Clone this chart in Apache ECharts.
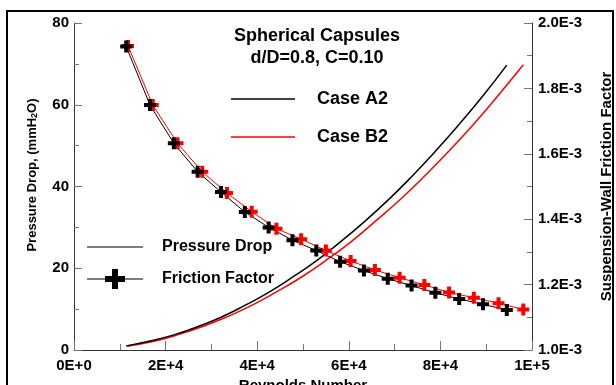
<!DOCTYPE html>
<html>
<head>
    <meta charset="utf-8">
    <title>Spherical Capsules</title>
    <script src="https://cdn.jsdelivr.net/npm/echarts@6.0.0/dist/echarts.min.js"></script>
    <style>
        body { margin: 0; background: #fff; }
    </style>
</head>
<body>
<div id="main" style="width: 616px;height:385px;"></div>
<script type="text/javascript">

    // Case A2 (black)
    var reA2 = [11400, 16600, 21800, 27000, 32100, 37300, 42500, 47700, 52900, 58100, 63300, 68500, 73700, 78900, 84100, 89300, 94500];
    var pdA2 = [1.0, 2.2, 3.7, 5.7, 8.0, 10.9, 14.1, 17.8, 21.8, 26.4, 31.3, 36.6, 42.4, 48.6, 55.2, 62.2, 69.7];
    var ffA2 = [0.001928, 0.001749, 0.001632, 0.001545, 0.001483, 0.001422, 0.001375, 0.001336, 0.001304, 0.001270, 0.001243, 0.001218, 0.001197, 0.001175, 0.001156, 0.001140, 0.001122];

    // Case B2 (red)
    var reB2 = [11800, 17200, 22600, 28000, 33400, 38800, 44200, 49600, 55000, 60400, 65700, 71100, 76500, 81900, 87300, 92700, 98100];
    var pdB2 = [1.0, 2.1, 3.7, 5.7, 8.1, 10.9, 14.2, 17.8, 21.9, 26.4, 31.4, 36.7, 42.5, 48.7, 55.3, 62.4, 69.8];
    var ffB2 = [0.001930, 0.001749, 0.001632, 0.001545, 0.001480, 0.001423, 0.001371, 0.001339, 0.001304, 0.001272, 0.001245, 0.001221, 0.001199, 0.001176, 0.001160, 0.001143, 0.001124];

    // tick labels
    var xLabels = ['0E+0', '2E+4', '4E+4', '6E+4', '8E+4', '1E+5'];
    var ffLabels = ['1.0E-3', '1.2E-3', '1.4E-3', '1.6E-3', '1.8E-3', '2.0E-3'];

    var FONT = 'Liberation Sans, Arial, sans-serif';
    var crossPath = 'path://M4,0H8V4H12V8H8V12H4V8H0V4H4Z';

    function pairs(xs, ys) {
        var out = [];
        for (var i = 0; i < xs.length; i++) {
            out.push([xs[i], ys[i]]);
        }
        return out;
    }

    var myChart = echarts.init(document.getElementById('main'));

    var axisLine = { lineStyle: { color: '#333', width: 1 } };
    var tickStyle = { color: '#777', width: 1 };

    option = {
        animation: false,
        backgroundColor: '#fff',
        grid: { left: 74, right: 84, top: 23, bottom: 35, outerBoundsMode: 'none' },
        xAxis: {
            type: 'value',
            min: 0,
            max: 100000,
            interval: 20000,
            axisLine: axisLine,
            axisTick: { inside: true, length: 9, lineStyle: tickStyle },
            minorTick: { show: true, splitNumber: 2, length: 6, lineStyle: tickStyle },
            splitLine: { show: false },
            axisLabel: {
                margin: 8,
                color: '#000',
                fontFamily: FONT,
                fontWeight: 'bold',
                fontSize: 15,
                formatter: function (v) { return xLabels[Math.round(v / 20000)]; }
            },
            name: 'Reynolds Number',
            nameLocation: 'middle',
            nameGap: 25,
            nameTextStyle: { color: '#000', fontFamily: FONT, fontWeight: 'bold', fontSize: 15, verticalAlign: 'top' }
        },
        yAxis: [{
            type: 'value',
            min: 0,
            max: 80,
            interval: 20,
            axisLine: axisLine,
            axisTick: { inside: true, length: 8, lineStyle: tickStyle },
            minorTick: { show: true, splitNumber: 2, length: 5, lineStyle: tickStyle },
            splitLine: { show: false },
            axisLabel: {
                margin: 5,
                color: '#000',
                fontFamily: FONT,
                fontWeight: 'bold',
                fontSize: 15
            }
        }, {
            type: 'value',
            position: 'right',
            min: 0.001,
            max: 0.002,
            interval: 0.0002,
            axisLine: axisLine,
            axisTick: { inside: true, length: 8, lineStyle: tickStyle },
            minorTick: { show: true, splitNumber: 2, length: 5, lineStyle: tickStyle },
            splitLine: { show: false },
            axisLabel: {
                margin: 6,
                color: '#000',
                fontFamily: FONT,
                fontWeight: 'bold',
                fontSize: 15,
                formatter: function (v) { return ffLabels[Math.round((v - 0.001) / 0.0002)]; }
            },
            name: 'Suspension-Wall Friction Factor',
            nameLocation: 'middle',
            nameRotate: 90,
            nameGap: 67,
            nameTextStyle: { color: '#000', fontFamily: FONT, fontWeight: 'bold', fontSize: 15 }
        }],
        graphic: [
            // outer frame
            { type: 'rect', shape: { x: 7, y: 11, width: 606, height: 400 }, style: { fill: null, stroke: '#000', lineWidth: 2 }, z: 100 },
            // left axis name with subscript
            {
                type: 'text', x: 32, y: 175, rotation: Math.PI / 2,
                style: {
                    text: 'Pressure Drop, (mmH{s|2}O)',
                    align: 'center', verticalAlign: 'middle',
                    fill: '#000', font: 'bold 13px ' + FONT,
                    rich: { s: { fontSize: 9, fontWeight: 'bold', fontFamily: FONT, verticalAlign: 'bottom', padding: [6, 0, 0, 0] } }
                }
            },
            // title
            { type: 'text', x: 317, y: 36, style: { text: 'Spherical Capsules', align: 'center', verticalAlign: 'middle', fill: '#000', font: 'bold 18px ' + FONT } },
            { type: 'text', x: 317, y: 58, style: { text: 'd/D=0.8, C=0.10', align: 'center', verticalAlign: 'middle', fill: '#000', font: 'bold 18px ' + FONT } },
            // case legend
            { type: 'line', shape: { x1: 231, y1: 99, x2: 295, y2: 99 }, style: { stroke: '#000', lineWidth: 1.5 } },
            { type: 'text', x: 317, y: 99, style: { text: 'Case A2', verticalAlign: 'middle', fill: '#000', font: 'bold 18px ' + FONT } },
            { type: 'line', shape: { x1: 231, y1: 137, x2: 295, y2: 137 }, style: { stroke: '#f00', lineWidth: 1.5 } },
            { type: 'text', x: 317, y: 137, style: { text: 'Case B2', verticalAlign: 'middle', fill: '#000', font: 'bold 18px ' + FONT } },
            // quantity legend
            { type: 'line', shape: { x1: 87, y1: 247, x2: 143, y2: 247 }, style: { stroke: '#000', lineWidth: 1 } },
            { type: 'text', x: 162, y: 247, style: { text: 'Pressure Drop', verticalAlign: 'middle', fill: '#000', font: 'bold 16px ' + FONT } },
            { type: 'line', shape: { x1: 87, y1: 279, x2: 143, y2: 279 }, style: { stroke: '#000', lineWidth: 1 } },
            {
                type: 'polygon',
                shape: { points: [[112, 269], [118, 269], [118, 276], [125, 276], [125, 282], [118, 282], [118, 289], [112, 289], [112, 282], [105, 282], [105, 276], [112, 276]] },
                style: { fill: '#000' }
            },
            { type: 'text', x: 162, y: 279, style: { text: 'Friction Factor', verticalAlign: 'middle', fill: '#000', font: 'bold 16px ' + FONT } }
        ],
        series: [{
            name: 'Pressure Drop B2',
            type: 'line',
            yAxisIndex: 0,
            smooth: true,
            showSymbol: false,
            lineStyle: { color: '#f00', width: 1.5 },
            data: pairs(reB2, pdB2)
        }, {
            name: 'Pressure Drop A2',
            type: 'line',
            yAxisIndex: 0,
            smooth: true,
            showSymbol: false,
            lineStyle: { color: '#000', width: 1.5 },
            data: pairs(reA2, pdA2)
        }, {
            name: 'Friction Factor B2',
            type: 'line',
            yAxisIndex: 1,
            symbol: crossPath,
            symbolSize: 12,
            itemStyle: { color: '#f00' },
            lineStyle: { color: '#f00', width: 1 },
            data: pairs(reB2, ffB2)
        }, {
            name: 'Friction Factor A2',
            type: 'line',
            yAxisIndex: 1,
            symbol: crossPath,
            symbolSize: 12,
            itemStyle: { color: '#000' },
            lineStyle: { color: '#000', width: 1 },
            data: pairs(reA2, ffA2)
        }]
    };

    myChart.setOption(option);
</script>
</body>
</html>
